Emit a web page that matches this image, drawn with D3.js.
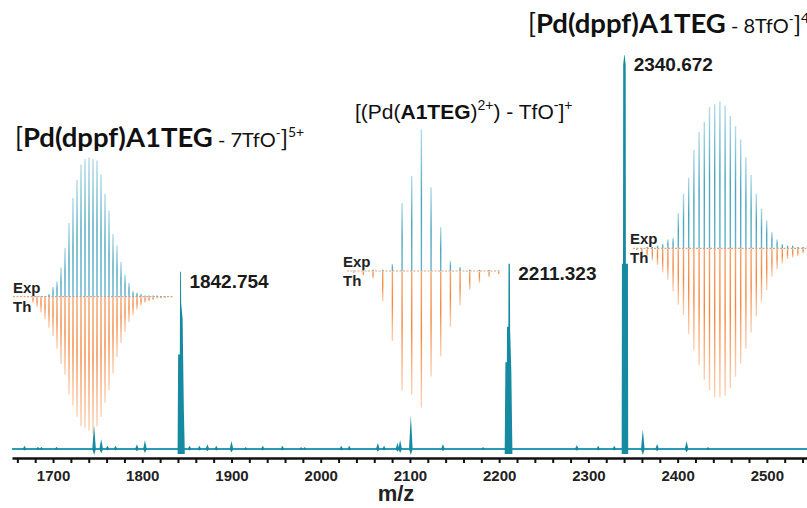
<!DOCTYPE html>
<html>
<head>
<meta charset="utf-8">
<script src="https://cdn.jsdelivr.net/npm/d3@7"></script>
<style>
  body { margin: 0; background: #fff; }
  svg { display: block; }
</style>
</head>
<body>
<script>
// main spectrum: isolated small peaks [m/z, relative intensity %]
const smallPeaks = [
  [1668, 0.8], [1683, 0.6], [1687, 0.6], [1704, 0.6], [1746, 6], [1754, 2.5],
  [1761, 0.8], [1770, 0.8], [1794, 1.2], [1803, 2.2], [1853, 0.8], [1864, 0.8],
  [1873, 1.2], [1883, 0.8], [1900, 2], [1916, 0.5], [1935, 0.8], [1957, 0.8],
  [1978, 0.5], [1982, 0.5], [2023, 0.8], [2032, 0.8], [2064, 1.5], [2071, 0.8],
  [2086, 1.6], [2089, 2.3], [2101, 8.6], [2137, 1.3], [2182, 0.5], [2287, 1],
  [2311, 0.8], [2329, 0.8], [2361, 5], [2377, 1.3], [2410, 2], [2434, 0.5]
];

// main peaks, outline points [m/z, %]
const peak1842 = [[1839.6, 0], [1840.2, 24], [1842.1, 24], [1842.4, 45], [1843.3, 45],
  [1843.6, 37], [1845.2, 33], [1846.6, 10], [1847.6, 0]];
const peak2211 = [[2206.2, 0], [2207, 22], [2208.6, 22], [2208.8, 31], [2210.3, 31],
  [2210.5, 47], [2212.0, 47], [2212.3, 30], [2213.6, 20], [2214.8, 0]];
const peak2340 = [[2337.3, 0], [2337.6, 47], [2338.8, 47], [2339.0, 97.5], [2340.2, 100],
  [2340.6, 100], [2341.8, 97.5], [2342.0, 47], [2344.3, 47], [2344.6, 0]];

const peakLabels = [["1842.754", 1842.754, 45], ["2211.323", 2211.323, 47], ["2340.672", 2340.672, 100]];

const axisLabels = [1700, 1800, 1900, 2000, 2100, 2200, 2300, 2400, 2500];

// isotope pattern insets, experimental (up) and theoretical (down), % per isotope line
const expA = [0, 0, 0, 0, 2, 7, 11, 21, 35, 53, 71, 84, 95, 99, 100, 99, 98, 88, 74, 62, 45, 37, 25, 16, 10, 4, 3, 2, 1, 1, 1, 1, 0, 0];
const thA = [4, 7, 11, 16, 22, 28, 37, 48, 56, 70, 78, 86, 93, 94, 96, 98, 93, 86, 76, 67, 55, 43, 33, 25, 18, 13, 9, 6, 4, 3, 2, 1, 1, 0.5];
const expB = [0, 1, 1, 1, 5, 48, 67, 100, 59, 31, 7, 3, 1, 1, 1, 0];
const thB = [1, 3, 5, 21, 49, 84, 87, 96, 74, 60, 39, 24, 13, 8, 4, 2];
const expC = [0, 0, 1, 1, 2, 3, 6, 7, 24, 37, 48, 67, 79, 86, 96, 98, 100, 97, 90, 83, 74, 62, 50, 37, 27, 19, 11, 6, 3, 2, 2, 1, 1];
const thC = [1, 3, 5, 8, 11, 16, 21, 29, 38, 45, 58, 69, 79, 89, 96, 101, 101, 100, 95, 87, 78, 68, 57, 46, 36, 28, 19, 14, 10, 7, 6, 5, 3];

const W = 807, H = 508;
const TEAL = "#168aa1";
const ARIAL = "Liberation Sans, Arial, sans-serif";

const svg = d3.select("body").append("svg").attr("width", W).attr("height", H);

const defs = svg.append("defs");
const expGrad = defs.append("linearGradient").attr("id", "expGrad")
  .attr("x1", 0).attr("y1", 0).attr("x2", 0).attr("y2", 1);
expGrad.append("stop").attr("offset", 0).attr("stop-color", "#b3dce8");
expGrad.append("stop").attr("offset", 0.5).attr("stop-color", "#4aa6bf");
expGrad.append("stop").attr("offset", 1).attr("stop-color", "#62b3c9");
const thGrad = defs.append("linearGradient").attr("id", "thGrad")
  .attr("x1", 0).attr("y1", 0).attr("x2", 0).attr("y2", 1);
thGrad.append("stop").attr("offset", 0).attr("stop-color", "#f7a46e");
thGrad.append("stop").attr("offset", 0.45).attr("stop-color", "#f5873f");
thGrad.append("stop").attr("offset", 1).attr("stop-color", "#fdd3b6");

const x = d3.scaleLinear().domain([1654, 2545]).range([12, 807]);
const y = d3.scaleLinear().domain([0, 100]).range([449, 55]);

// insets
function drawInset(cfg) {
  const g = svg.append("g");
  const xi = d3.scaleLinear().domain([0, 1]).range([cfg.x0, cfg.x0 + cfg.step]);
  const hi = d3.scaleLinear().domain([0, 100]).range([0, cfg.full]);

  g.append("line")
    .attr("x1", cfg.lineFrom).attr("x2", cfg.lineTo)
    .attr("y1", cfg.base).attr("y2", cfg.base)
    .attr("stroke", "#e6a27a").attr("stroke-width", 1.2)
    .attr("stroke-dasharray", "2,1.5");

  g.selectAll("rect.th").data(cfg.th).join("rect")
    .attr("class", "th")
    .attr("x", (d, i) => xi(i) - 0.7)
    .attr("width", 1.4)
    .attr("y", cfg.base + 0.5)
    .attr("height", (d) => Math.max(0.6, hi(d)))
    .attr("fill", "url(#thGrad)");

  g.selectAll("rect.exp").data(cfg.exp).join("rect")
    .attr("class", "exp")
    .attr("x", (d, i) => xi(i) - 0.7)
    .attr("width", 1.4)
    .attr("y", (d) => cfg.base - Math.max(0.6, hi(d)))
    .attr("height", (d) => Math.max(0.6, hi(d)))
    .attr("fill", "url(#expGrad)");

  g.append("text").attr("x", cfg.labelX).attr("y", cfg.base - 4)
    .attr("font-family", ARIAL)
    .attr("font-weight", "bold").attr("font-size", 15).attr("fill", "#222")
    .text("Exp");
  g.append("text").attr("x", cfg.labelX).attr("y", cfg.base + 15)
    .attr("font-family", ARIAL)
    .attr("font-weight", "bold").attr("font-size", 15).attr("fill", "#222")
    .text("Th");
}

drawInset({ exp: expA, th: thA, x0: 33, step: 4, base: 296.7, full: 139, lineFrom: 13, lineTo: 173, labelX: 13 });
drawInset({ exp: expB, th: thB, x0: 353.7, step: 9.67, base: 271, full: 141.7, lineFrom: 347, lineTo: 500, labelX: 343 });
drawInset({ exp: expC, th: thC, x0: 636.7, step: 5.2, base: 248.3, full: 147, lineFrom: 633, lineTo: 807, labelX: 630 });

// spectrum baseline
svg.append("line")
  .attr("x1", x.range()[0]).attr("x2", x.range()[1])
  .attr("y1", y(0)).attr("y2", y(0))
  .attr("stroke", "#2a9bb4").attr("stroke-width", 2);

// small peaks as narrow spikes
const spike = (d) => {
  const w = 1.8, h = y(0) - y(d[1]);
  return `M${x(d[0]) - w},${y(0)}L${x(d[0])},${y(d[1])}L${x(d[0]) + w},${y(0)}L${x(d[0])},${y(0) + Math.min(6, h * 0.45)}Z`;
};
svg.selectAll("path.small").data(smallPeaks).join("path")
  .attr("class", "small")
  .attr("d", spike)
  .attr("fill", TEAL);

// main peaks
const area = d3.area().x((d) => x(d[0])).y0(y(0) + 5).y1((d) => y(d[1]));
svg.selectAll("path.main").data([peak1842, peak2211, peak2340]).join("path")
  .attr("class", "main")
  .attr("d", area)
  .attr("fill", TEAL);

svg.selectAll("text.peak").data(peakLabels).join("text")
  .attr("class", "peak")
  .attr("x", (d) => x(d[1]) + 9)
  .attr("y", (d) => y(d[2]) + 16)
  .attr("font-family", ARIAL)
  .attr("font-weight", "bold").attr("font-size", 19).attr("fill", "#1a1a1a")
  .text((d) => d[0]);

// axis
const minorTicks = d3.range(1660, 2545, 20);
const axis = d3.axisBottom(x)
  .tickValues(minorTicks)
  .tickSize(5)
  .tickSizeOuter(0)
  .tickPadding(7)
  .tickFormat((d) => (axisLabels.includes(d) ? d : ""));

const gx = svg.append("g").attr("transform", "translate(0,458)").call(axis);
gx.select(".domain").attr("stroke", "#111").attr("stroke-width", 2.6);
gx.selectAll(".tick line").attr("stroke", "#111").attr("stroke-width", 2);
gx.selectAll(".tick text")
  .attr("font-family", ARIAL)
  .attr("font-weight", "bold").attr("font-size", 15).attr("fill", "#222");

svg.append("text").attr("x", 396).attr("y", 501)
  .attr("text-anchor", "middle")
  .attr("font-family", ARIAL)
  .attr("font-weight", "bold").attr("font-size", 22).attr("fill", "#222")
  .text("m/z");

// titles
function title(xPos, yPos, parts, family) {
  const t = svg.append("text").attr("x", xPos).attr("y", yPos)
    .attr("font-family", family).attr("fill", "#111");
  parts.forEach((p) => {
    t.append("tspan")
      .attr("font-size", p.size)
      .attr("font-weight", p.bold ? "bold" : "normal")
      .attr("dy", p.dy || 0)
      .text(p.t);
  });
}

const lato = "Lato, Carlito, sans-serif";
title(15, 147, [
  { t: "[", size: 26 },
  { t: "Pd(dppf)A1TEG", size: 27.5, bold: true },
  { t: " - 7TfO", size: 20 },
  { t: "-", size: 13, dy: -9 },
  { t: "]", size: 24, dy: 9 },
  { t: "5+", size: 14, dy: -10 }
], lato);

title(528, 33, [
  { t: "[", size: 26 },
  { t: "Pd(dppf)A1TEG", size: 27.5, bold: true },
  { t: " - 8TfO", size: 20 },
  { t: "-", size: 13, dy: -9 },
  { t: "]", size: 24, dy: 9 },
  { t: "4+", size: 14, dy: -10 }
], lato);

title(355, 119, [
  { t: "[(Pd(", size: 21 },
  { t: "A1TEG", size: 21, bold: true },
  { t: ")", size: 21 },
  { t: "2+", size: 14, dy: -9 },
  { t: ") - TfO", size: 21, dy: 9 },
  { t: "-", size: 14, dy: -9 },
  { t: "]", size: 21, dy: 9 },
  { t: "+", size: 14, dy: -9 }
], ARIAL);
</script>
</body>
</html>
